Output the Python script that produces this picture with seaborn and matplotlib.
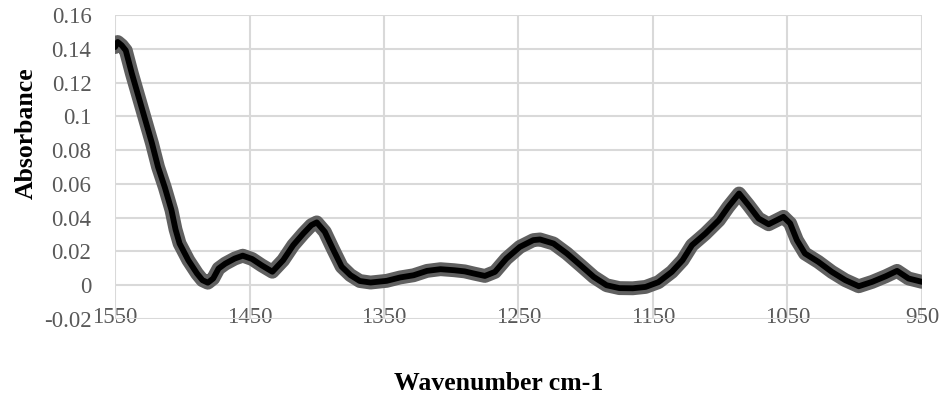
import matplotlib
matplotlib.use("Agg")
import matplotlib.pyplot as plt
import seaborn as sns
import pandas as pd

# FTIR absorbance spectrum, 1550-950 cm-1
wavenumber = [
    1550, 1548, 1545, 1542, 1537.5, 1532.5, 1527.5, 1522.5, 1518, 1513,
    1508, 1505, 1502, 1495.5, 1489, 1485, 1481, 1477, 1473, 1468,
    1461, 1455, 1448, 1441, 1433, 1425, 1417.5, 1410, 1404, 1400,
    1394, 1388, 1381.5, 1375, 1368, 1360, 1348, 1338, 1328, 1318,
    1308, 1298, 1290, 1283, 1275, 1267.5, 1259, 1249, 1239, 1234,
    1224, 1214, 1204, 1194, 1184.5, 1175, 1165, 1155.5, 1146, 1136,
    1128, 1121, 1111, 1101, 1094, 1086, 1079, 1071.5, 1064, 1058,
    1053, 1048, 1043, 1037, 1027, 1017, 1007, 997, 987, 977,
    968.5, 960, 950,
]
absorbance = [
    0.141, 0.144, 0.142, 0.139, 0.1254, 0.1116, 0.0978, 0.084, 0.070, 0.058,
    0.0444, 0.033, 0.0247, 0.0148, 0.0069, 0.003, 0.0015, 0.004, 0.0099, 0.0128,
    0.0158, 0.0175, 0.0155, 0.0118, 0.008, 0.0148, 0.0237, 0.0306, 0.0356, 0.0372,
    0.0316, 0.0215, 0.011, 0.006, 0.0025, 0.0016, 0.0026, 0.0046, 0.0059, 0.0085,
    0.0095, 0.0089, 0.0082, 0.0069, 0.0055, 0.0079, 0.0158, 0.0227, 0.0267, 0.0271,
    0.0247, 0.0188, 0.0119, 0.0049, 0.0, -0.0017, -0.0018, -0.001, 0.0018, 0.0079,
    0.0148, 0.0237, 0.0306, 0.0385, 0.0464, 0.0543, 0.0474, 0.0395, 0.0361, 0.0385,
    0.0405, 0.0366, 0.0267, 0.0188, 0.0138, 0.0079, 0.003, -0.0006, 0.002, 0.0053,
    0.0085, 0.004, 0.002,
]
x_ticks = [1550, 1450, 1350, 1250, 1150, 1050, 950]
y_ticks = [-0.02, 0, 0.02, 0.04, 0.06, 0.08, 0.1, 0.12, 0.14, 0.16]
y_tick_labels = ["-0.02", "0", "0.02", "0.04", "0.06", "0.08", "0.1", "0.12", "0.14", "0.16"]

df = pd.DataFrame({"Wavenumber": wavenumber, "Absorbance": absorbance})

sns.set_theme(style="whitegrid")
plt.rcParams["font.family"] = ["Liberation Serif", "DejaVu Serif"]

fig = plt.figure(figsize=(9.49, 4.03), dpi=100)
ax = fig.add_axes([0.1212, 0.2084, 0.8503, 0.7544])

# grey marker halo under the black trace
sns.lineplot(data=df, x="Wavenumber", y="Absorbance", sort=False, ax=ax,
             color="#606060", linewidth=10, solid_joinstyle="round",
             solid_capstyle="round", zorder=3)
sns.lineplot(data=df, x="Wavenumber", y="Absorbance", sort=False, ax=ax,
             color="black", linewidth=4.2, solid_joinstyle="round",
             solid_capstyle="round", zorder=4)

ax.set_xlim(1550, 950)
ax.set_ylim(-0.02, 0.16)
ax.set_xticks(x_ticks)
ax.set_xticklabels([str(t) for t in x_ticks])
ax.set_yticks(y_ticks)
ax.set_yticklabels(y_tick_labels)

ax.set_facecolor("white")
for s in ax.spines.values():
    s.set_visible(False)
ax.grid(True, color="#d9d9d9", linewidth=1.5)
ax.set_axisbelow(True)

ax.tick_params(axis="both", length=0, labelsize=16.5, labelcolor="#595959")
ax.tick_params(axis="x", pad=-8.5)
ax.tick_params(axis="y", pad=17)

ax.set_xlabel("")
ax.set_ylabel("")
fig.text(0.5258, 1 - 383 / 403, "Wavenumber cm-1", ha="center", va="center",
         fontsize=18.5, fontweight="bold", color="black")
fig.text(26 / 949, 1 - 133 / 403, "Absorbance", ha="center", va="center",
         rotation=90, fontsize=18.5, fontweight="bold", color="black")

fig.savefig("out.png", dpi=100, facecolor="white")
